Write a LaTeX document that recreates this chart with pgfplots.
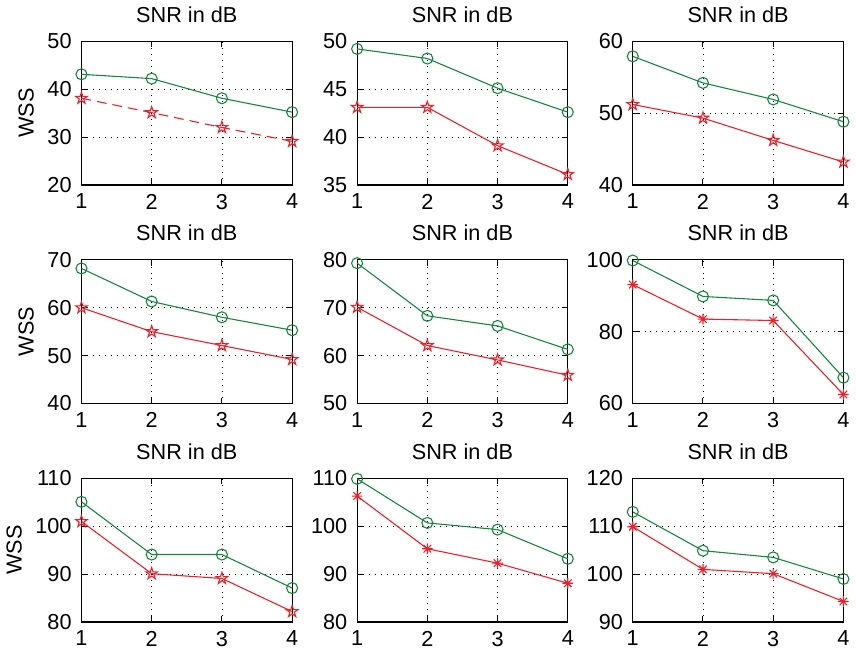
\documentclass[border=0pt]{standalone}
\usepackage{fontspec}
\setmainfont{Liberation Sans}
\usepackage{pgfplots}
\pgfplotsset{compat=1.18}
\usepgfplotslibrary{groupplots}

\definecolor{mgreen}{RGB}{20,135,60}
\definecolor{mred}{RGB}{240,30,40}

% matlab-like pentagram (outline star)
\pgfdeclareplotmark{pentagram}{%
  \pgfpathmoveto{\pgfpointpolar{90}{\pgfplotmarksize}}%
  \pgfpathlineto{\pgfpointpolar{126}{0.382\pgfplotmarksize}}%
  \pgfpathlineto{\pgfpointpolar{162}{\pgfplotmarksize}}%
  \pgfpathlineto{\pgfpointpolar{198}{0.382\pgfplotmarksize}}%
  \pgfpathlineto{\pgfpointpolar{234}{\pgfplotmarksize}}%
  \pgfpathlineto{\pgfpointpolar{270}{0.382\pgfplotmarksize}}%
  \pgfpathlineto{\pgfpointpolar{306}{\pgfplotmarksize}}%
  \pgfpathlineto{\pgfpointpolar{342}{0.382\pgfplotmarksize}}%
  \pgfpathlineto{\pgfpointpolar{18}{\pgfplotmarksize}}%
  \pgfpathlineto{\pgfpointpolar{54}{0.382\pgfplotmarksize}}%
  \pgfpathclose
  \pgfusepathqstroke}
% matlab-like asterisk (+ and x)
\pgfdeclareplotmark{masterisk}{%
  \pgfpathmoveto{\pgfpointpolar{0}{\pgfplotmarksize}}\pgfpathlineto{\pgfpointpolar{180}{\pgfplotmarksize}}%
  \pgfpathmoveto{\pgfpointpolar{90}{\pgfplotmarksize}}\pgfpathlineto{\pgfpointpolar{270}{\pgfplotmarksize}}%
  \pgfpathmoveto{\pgfpointpolar{45}{\pgfplotmarksize}}\pgfpathlineto{\pgfpointpolar{225}{\pgfplotmarksize}}%
  \pgfpathmoveto{\pgfpointpolar{135}{\pgfplotmarksize}}\pgfpathlineto{\pgfpointpolar{315}{\pgfplotmarksize}}%
  \pgfusepathqstroke}

\pgfplotsset{
  gline/.style={mgreen, line width=0.55pt, mark=o, mark size=2.8pt},
  rstar/.style={mred, line width=0.55pt, mark=pentagram, mark size=3.1pt},
  rast/.style={mred, line width=0.55pt, mark=masterisk, mark size=2.7pt},
}

\begin{document}
\begin{tikzpicture}
\begin{groupplot}[
    group style={group size=3 by 3, horizontal sep=33pt, vertical sep=38pt},
    width=107pt, height=73pt, scale only axis,
    xmin=1, xmax=4, xtick={1,2,3,4},
    grid=major,
    grid style={black, line width=0.4pt, dash pattern=on 0.5pt off 2.5pt},
    tick align=inside, tick pos=both, major tick length=3pt,
    every tick/.style={black, line width=0.5pt},
    axis line style={line width=0.6pt},
    title={SNR in dB},
    title style={font=\fontsize{11}{13}\selectfont, yshift=0pt},
    tick label style={font=\fontsize{11}{13}\selectfont},
    xticklabel style={yshift=-1pt},
    yticklabel style={xshift=-1.5pt},
    label style={font=\fontsize{11}{13}\selectfont},
    /pgf/number format/assume math mode=true,
]
\nextgroupplot[ymin=20, ymax=50, ytick={20,30,40,50}, ylabel={WSS}]
\addplot[gline] coordinates {(1,43.1) (2,42.2) (3,38.1) (4,35.2)};
\addplot[rstar, dash pattern=on 5pt off 3pt, mark options={solid}] coordinates {(1,38.1) (2,35.1) (3,32.0) (4,29.1)};

\nextgroupplot[ymin=35, ymax=50, ytick={35,40,45,50}]
\addplot[gline] coordinates {(1,49.2) (2,48.2) (3,45.1) (4,42.6)};
\addplot[rstar] coordinates {(1,43.1) (2,43.1) (3,39.1) (4,36.1)};

\nextgroupplot[ymin=40, ymax=60, ytick={40,50,60}]
\addplot[gline] coordinates {(1,57.9) (2,54.2) (3,51.9) (4,48.8)};
\addplot[rstar] coordinates {(1,51.2) (2,49.3) (3,46.2) (4,43.2)};

\nextgroupplot[ymin=40, ymax=70, ytick={40,50,60,70}, ylabel={WSS}]
\addplot[gline] coordinates {(1,68.2) (2,61.3) (3,58.0) (4,55.3)};
\addplot[rstar] coordinates {(1,60.0) (2,55.0) (3,52.1) (4,49.2)};

\nextgroupplot[ymin=50, ymax=80, ytick={50,60,70,80}]
\addplot[gline] coordinates {(1,79.3) (2,68.3) (3,66.2) (4,61.3)};
\addplot[rstar] coordinates {(1,70.1) (2,62.1) (3,59.1) (4,55.9)};

\nextgroupplot[ymin=60, ymax=100, ytick={60,80,100}]
\addplot[gline] coordinates {(1,99.8) (2,89.8) (3,88.7) (4,67.2)};
\addplot[rast] coordinates {(1,93.1) (2,83.5) (3,83.1) (4,62.5)};

\nextgroupplot[ymin=80, ymax=110, ytick={80,90,100,110}, ylabel={WSS}]
\addplot[gline] coordinates {(1,105.1) (2,94.1) (3,94.1) (4,87.1)};
\addplot[rstar] coordinates {(1,101.0) (2,90.1) (3,89.1) (4,82.2)};

\nextgroupplot[ymin=80, ymax=110, ytick={80,90,100,110}]
\addplot[gline] coordinates {(1,109.9) (2,100.7) (3,99.3) (4,93.2)};
\addplot[rast] coordinates {(1,106.3) (2,95.3) (3,92.3) (4,88.1)};

\nextgroupplot[ymin=90, ymax=120, ytick={90,100,110,120}]
\addplot[gline] coordinates {(1,113.0) (2,104.9) (3,103.5) (4,99.0)};
\addplot[rast] coordinates {(1,109.9) (2,101.0) (3,100.1) (4,94.3)};
\end{groupplot}
\end{tikzpicture}
\end{document}
